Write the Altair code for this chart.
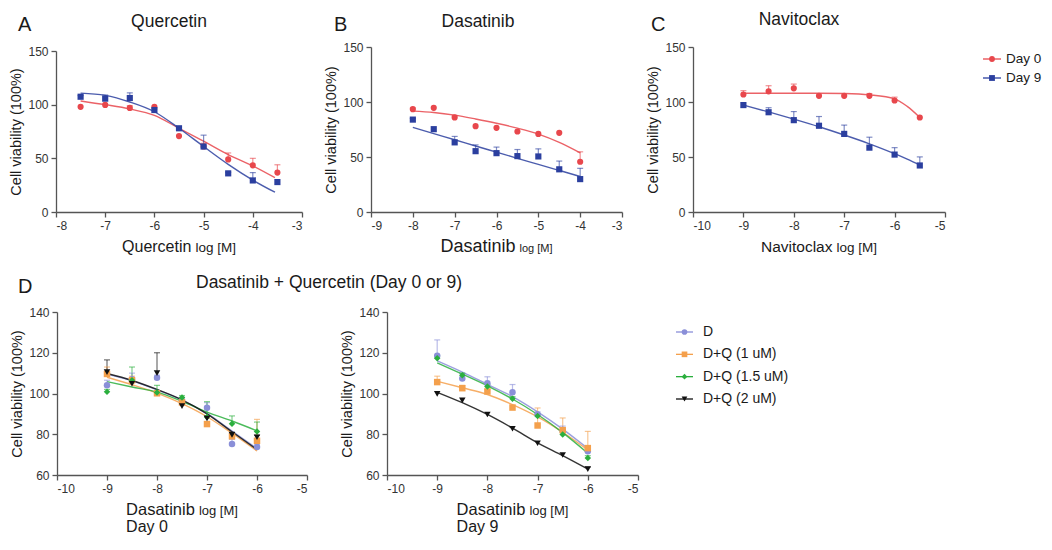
import altair as alt
import pandas as pd

FONT = "Liberation Sans"
TXT = "#1a1a1a"
RED = "#E8474C"
BLUE = "#2B3F9F"
LAV = "#8A8FD8"
ORA = "#F4A04C"
GRN = "#2BAF3E"
BLK = "#111111"

# ---------------- Panel A: Quercetin ----------------
q_x = [-7.5, -7, -6.5, -6, -5.5, -5, -4.5, -4, -3.5]
q_day0 = [98, 99.8, 97, 98, 70.7, 61, 49, 43.5, 36.7]
q_day0_err = [98, 99.8, 99, 98.5, 71, 64, 55, 50, 44]
q_day9 = [107.4, 105.6, 106.2, 95, 78, 61, 36, 29.4, 27.9]
q_day9_err = [108.5, 109, 111, 96, 79.5, 71.6, 37, 36.7, 28.5]
q_cx = [-7.5, -7, -6.5, -6, -5.5, -5, -4.5, -4, -3.55]
q_c0 = [103.5, 100, 96, 90, 78, 66, 53.5, 43, 32]
q_c9 = [110.8, 108.7, 102.5, 93.4, 78, 61, 44.4, 29.7, 18.4]

# ---------------- Panel B: Dasatinib ----------------
d_x = [-8, -7.5, -7, -6.5, -6, -5.5, -5, -4.5, -4]
d_day0 = [93.5, 94.7, 86, 78, 76.5, 73.2, 71, 72, 45.7]
d_day0_err = [94.5, 95, 87.5, 78, 77, 73.5, 71, 72, 54.7]
d_day9 = [84, 75.3, 63.3, 55.3, 53.5, 50.8, 50.5, 38.8, 29.9]
d_day9_err = [85, 76, 68.7, 61, 59, 56.8, 57.4, 46.3, 39.7]
d_cx = [-8, -7.5, -7, -6.5, -6, -5.5, -5, -4.5, -4]
d_c0 = [91.7, 90.5, 88.1, 84.6, 80.7, 76.2, 70.8, 63.3, 53.8]
d_c9 = [77, 71.3, 65.7, 60, 54.4, 48.8, 43.3, 37.8, 32.3]

# ---------------- Panel C: Navitoclax ----------------
n_x = [-9, -8.5, -8, -7.5, -7, -6.5, -6, -5.5]
n_day0 = [106.8, 109.7, 112.4, 105.6, 105.6, 105.6, 101.4, 85.9]
n_day0_err = [110.3, 114.8, 116.3, 106, 106, 107.7, 104.4, 86]
n_day9 = [97.2, 90.7, 83.5, 78.4, 71, 58.5, 52.2, 42.3]
n_day9_err = [97.5, 94.8, 91.3, 86.8, 79, 68, 58.5, 50.1]
n_cx = [-9, -8.5, -8, -7.5, -7, -6.5, -6, -5.75, -5.5]
n_c0 = [108, 108, 108, 108, 107.7, 106.5, 102.9, 96, 86]
n_c9 = [97.2, 91, 84.4, 77.5, 70, 62, 53, 48, 42.6]

# ---------------- Panel D: Dasatinib + Quercetin ----------------
dq_x = [-9, -8.5, -8, -7.5, -7, -6.5, -6]
# Day 0
d0_D = [104, 107, 107.7, 96.5, 93, 75.2, 73.7]
d0_D_err = [106.5, 110, 109, 98, 95.5, 77.5, 75]
d0_Q1 = [109.6, 106.5, 100.1, 95.6, 85, 79, 76.8]
d0_Q1_err = [113, 108.5, 101, 96.5, 86, 80, 87.3]
d0_Q15 = [100.8, 106.5, 100.5, 98, 88.5, 85.1, 81.3]
d0_Q15_err = [102, 113, 104, 99, 96, 89, 86]
d0_Q2 = [110.5, 104.8, 110, 93.8, 87.7, 79.7, 78.5]
d0_Q2_err = [116.5, 106, 120, 95, 89, 81, 79.5]
c0_D = [109.5, 106.2, 101.8, 96.8, 90.2, 81.5, 73.0]
c0_Q1 = [108, 104.3, 100.2, 95, 88.6, 80.5, 71.8]
c0_Q15 = [105.8, 103.2, 100.7, 96.2, 90.9, 86.5, 81.7]
c0_Q2 = [109.8, 106.4, 102, 96.9, 90, 81.2, 72.5]
# Day 9
d9_D = [118.5, 107.4, 105, 100.6, 89.7, 81.8, 71.6]
d9_D_err = [126.3, 109.8, 108.2, 104.4, 91, 84, 73]
d9_Q1 = [105.6, 102.6, 101, 93.1, 84.3, 82, 73.2]
d9_Q1_err = [108.5, 104, 102, 94, 92.9, 88, 81.4]
d9_Q15 = [117.3, 109, 103.4, 97.4, 89, 79.9, 68.4]
d9_Q15_err = [118.5, 110, 104.5, 98.5, 90, 81, 69.5]
d9_Q2 = [99.8, 96.6, 89.7, 82.7, 75.6, 69.8, 62.9]
d9_Q2_err = [100.5, 97.3, 90.3, 83.3, 76.2, 70.4, 63.9]
c9_D = [116, 110.5, 104.5, 98.5, 91, 82.5, 73]
c9_Q1 = [106, 102.8, 99.5, 94.5, 88.5, 81, 72.3]
c9_Q15 = [115, 109.5, 103.8, 97.3, 89.7, 80.8, 70.7]
c9_Q2 = [100.6, 95.5, 89.7, 83, 75.8, 69.5, 62.9]

day_names = ["Day 0", "Day 9"]
day_colors = [RED, BLUE]
day_shapes = ["circle", "square"]
dq_names = ["D", "D+Q (1 uM)", "D+Q (1.5 uM)", "D+Q (2 uM)"]
dq_colors = [LAV, ORA, GRN, BLK]
dq_shapes = ["circle", "square", "diamond", "triangle-down"]

# Arial-like advance widths (em/1000) for centring the mixed-size axis titles
CW = {" ": 278, "[": 278, "]": 278, "M": 833, "l": 222, "o": 556, "g": 556,
      "Q": 778, "u": 556, "e": 556, "r": 333, "c": 500, "t": 278, "i": 222,
      "n": 556, "D": 722, "a": 556, "s": 500, "b": 556, "N": 722, "v": 500,
      "x": 500}

H1 = 165   # plot height, top row
H2 = 163   # plot height, bottom row
XT = 40    # baseline of the x-axis titles below the plot
DL = 57    # baseline of the "Day 0/9" captions below the plot


def tw(s, size):
    return sum(CW.get(ch, 556) for ch in s) * size / 1000.0


def pts_frame(x, series):
    rows = []
    for name, vals, errs in series:
        for xi, v, e in zip(x, vals, errs):
            rows.append({"x": xi, "v": v, "err": e, "series": name})
    return pd.DataFrame(rows)


def curve_frame(x, series):
    rows = []
    for name, vals in series:
        for xi, v in zip(x, vals):
            rows.append({"x": xi, "v": v, "series": name})
    return pd.DataFrame(rows)


def text_layer(text, x, y, size, align="left", color=TXT):
    return alt.Chart(pd.DataFrame({"t": [text]})).mark_text(
        align=align, baseline="alphabetic", fontSize=size, font=FONT, color=color
    ).encode(x=alt.value(x), y=alt.value(y), text="t:N")


def panel(pts, curves, names, colors, shapes, xdom, xticks, ydom, yticks,
          w, cellw, h, main, main_size, log_size, x0=0, ytop=0, psize=38, extras=()):
    xs = alt.Scale(domain=xdom, nice=False, zero=False, range=[x0, x0 + w])
    ys = alt.Scale(domain=ydom, nice=False, zero=False, range=[h, ytop])
    col = alt.Color("series:N", scale=alt.Scale(domain=names, range=colors), legend=None)
    shp = alt.Shape("series:N", scale=alt.Scale(domain=names, range=shapes), legend=None)
    X = alt.X("x:Q", scale=xs, axis=alt.Axis(values=xticks, title=None,
                                            labelExpr="'' + datum.value"))
    Y = alt.Y("v:Q", scale=ys, axis=alt.Axis(values=yticks, title="Cell viability (100%)",
                                            offset=-x0))
    Xn = alt.X("x:Q", scale=xs)
    Yn = alt.Y("v:Q", scale=ys)

    line = alt.Chart(curves).mark_line(strokeWidth=1.4, interpolate="monotone", opacity=0.85).encode(
        x=X, y=Y, color=col, detail="series:N")
    errs = pts[(pts["err"] - pts["v"]) >= 1.0]
    rule = alt.Chart(errs).mark_rule(strokeWidth=1.2, opacity=0.6).encode(
        x=Xn, y=Yn, y2="err:Q", color=col)
    cap = alt.Chart(errs).mark_tick(orient="horizontal", size=6, thickness=1.2, opacity=0.6).encode(
        x=Xn, y=alt.Y("err:Q", scale=ys), color=col)
    dots = alt.Chart(pts).mark_point(filled=True, opacity=1, size=psize, strokeWidth=0).encode(
        x=Xn, y=Yn, color=col, shape=shp)

    gap = 4
    wm = tw(main, main_size)
    wl = tw("log [M]", log_size)
    left = x0 + w / 2 - (wm + gap + wl) / 2
    t1 = text_layer(main, left + wm, h + XT, main_size, align="right")
    t2 = text_layer("log [M]", left + wm + gap, h + XT, log_size)
    layers = [line, rule, cap, dots, t1, t2]
    for fn in extras:
        layers.append(fn(left))
    return alt.layer(*layers).properties(width=cellw, height=h)


def legend_panel(names, colors, shapes, ypos, w, h, lx, line_w, text_x, size, tsize):
    df = pd.DataFrame({"series": names, "idx": list(range(len(names)))})
    col = alt.Color("series:N", scale=alt.Scale(domain=names, range=colors), legend=None)
    shp = alt.Shape("series:N", scale=alt.Scale(domain=names, range=shapes), legend=None)
    Y = alt.Y("idx:Q", scale=alt.Scale(domain=[0, len(names) - 1], range=ypos), axis=None)
    base = alt.Chart(df)
    ln = base.mark_rule(strokeWidth=1.3).encode(
        x=alt.value(lx), x2=alt.value(lx + line_w), y=Y, color=col)
    pt = base.mark_point(filled=True, opacity=1, size=size, strokeWidth=0).encode(
        x=alt.value(lx + line_w / 2), y=Y, color=col, shape=shp)
    tx = base.mark_text(align="left", baseline="middle", fontSize=tsize, font=FONT, color=TXT).encode(
        x=alt.value(lx + text_x), y=Y, text="series:N")
    return alt.layer(ln, pt, tx).properties(width=w, height=h)


# ---- panels; grid columns are 315, 322, 290 wide ----
pA = panel(
    pts_frame(q_x, [("Day 0", q_day0, q_day0_err), ("Day 9", q_day9, q_day9_err)]),
    curve_frame(q_cx, [("Day 0", q_c0), ("Day 9", q_c9)]),
    day_names, day_colors, day_shapes, [-8, -3], [-8, -7, -6, -5, -4, -3],
    [0, 150], [0, 50, 100, 150], 246, 315, H1, "Quercetin", 16, 13.5, ytop=4,
    extras=[lambda l: text_layer("Quercetin", 113, -20, 17.5, align="center"),
            lambda l: text_layer("A", -38, -16.5, 20)])

pB = panel(
    pts_frame(d_x, [("Day 0", d_day0, d_day0_err), ("Day 9", d_day9, d_day9_err)]),
    curve_frame(d_cx, [("Day 0", d_c0), ("Day 9", d_c9)]),
    day_names, day_colors, day_shapes, [-9, -3], [-9, -8, -7, -6, -5, -4, -3],
    [0, 150], [0, 50, 100, 150], 251, 322, H1, "Dasatinib", 18, 11,
    extras=[lambda l: text_layer("Dasatinib", 107, -20, 17.5, align="center"),
            lambda l: text_layer("B", -37, -16.5, 20)])

pC = panel(
    pts_frame(n_x, [("Day 0", n_day0, n_day0_err), ("Day 9", n_day9, n_day9_err)]),
    curve_frame(n_cx, [("Day 0", n_c0), ("Day 9", n_c9)]),
    day_names, day_colors, day_shapes, [-10, -5], [-10, -9, -8, -7, -6, -5],
    [0, 150], [0, 50, 100, 150], 252, 290, H1, "Navitoclax", 15.5, 13.5,
    extras=[lambda l: text_layer("Navitoclax", 106, -22, 17.5, align="center"),
            lambda l: text_layer("C", -42, -16.5, 20)])

pD0 = panel(
    pts_frame(dq_x, [("D", d0_D, d0_D_err), ("D+Q (1 uM)", d0_Q1, d0_Q1_err),
                     ("D+Q (1.5 uM)", d0_Q15, d0_Q15_err), ("D+Q (2 uM)", d0_Q2, d0_Q2_err)]),
    curve_frame(dq_x, [("D", c0_D), ("D+Q (1 uM)", c0_Q1), ("D+Q (1.5 uM)", c0_Q15),
                       ("D+Q (2 uM)", c0_Q2)]),
    dq_names, dq_colors, dq_shapes, [-10, -5], [-10, -9, -8, -7, -6, -5],
    [60, 140], [60, 80, 100, 120, 140], 250, 315, H2, "Dasatinib", 16.5, 13, x0=1, psize=42,
    extras=[lambda l: text_layer("Day 0", l, H2 + DL, 16),
            lambda l: text_layer("Dasatinib + Quercetin (Day 0 or 9)", 140, -24, 17.5),
            lambda l: text_layer("D", -38, -19, 20)])

pD9 = panel(
    pts_frame(dq_x, [("D", d9_D, d9_D_err), ("D+Q (1 uM)", d9_Q1, d9_Q1_err),
                     ("D+Q (1.5 uM)", d9_Q15, d9_Q15_err), ("D+Q (2 uM)", d9_Q2, d9_Q2_err)]),
    curve_frame(dq_x, [("D", c9_D), ("D+Q (1 uM)", c9_Q1), ("D+Q (1.5 uM)", c9_Q15),
                       ("D+Q (2 uM)", c9_Q2)]),
    dq_names, dq_colors, dq_shapes, [-10, -5], [-10, -9, -8, -7, -6, -5],
    [60, 140], [60, 80, 100, 120, 140], 251, 322, H2, "Dasatinib", 16.5, 13, x0=16, psize=42,
    extras=[lambda l: text_layer("Day 9", l, H2 + DL, 16)])

leg1 = legend_panel(day_names, day_colors, day_shapes, [12, 31], 20, H1, 0, 18, 23, 34, 13.5)
leg2 = legend_panel(dq_names, dq_colors, dq_shapes, [20, 87], 290, H2, -17, 17, 27, 32, 14)

chart = alt.concat(
    pA, pB, pC, leg1, pD0, pD9, leg2,
    columns=4, align="each", bounds="flush", spacing={"row": 100, "column": 0}
).resolve_scale(
    color="independent", shape="independent"
).properties(
    padding={"left": 0, "top": 3, "right": 0, "bottom": 0}
).configure(font=FONT).configure_view(stroke=None).configure_axis(
    grid=False, domainColor="#555555", domainWidth=1.3, tickColor="#555555",
    tickWidth=1.3, tickSize=5, labelFontSize=12, labelColor="#333333",
    labelPadding=3, labelFont=FONT, titleFont=FONT, titleFontSize=14.5,
    titleFontWeight="normal", titleColor=TXT, titlePadding=4
)

chart.save("out.html", embed_options={"renderer": "svg", "actions": False})
